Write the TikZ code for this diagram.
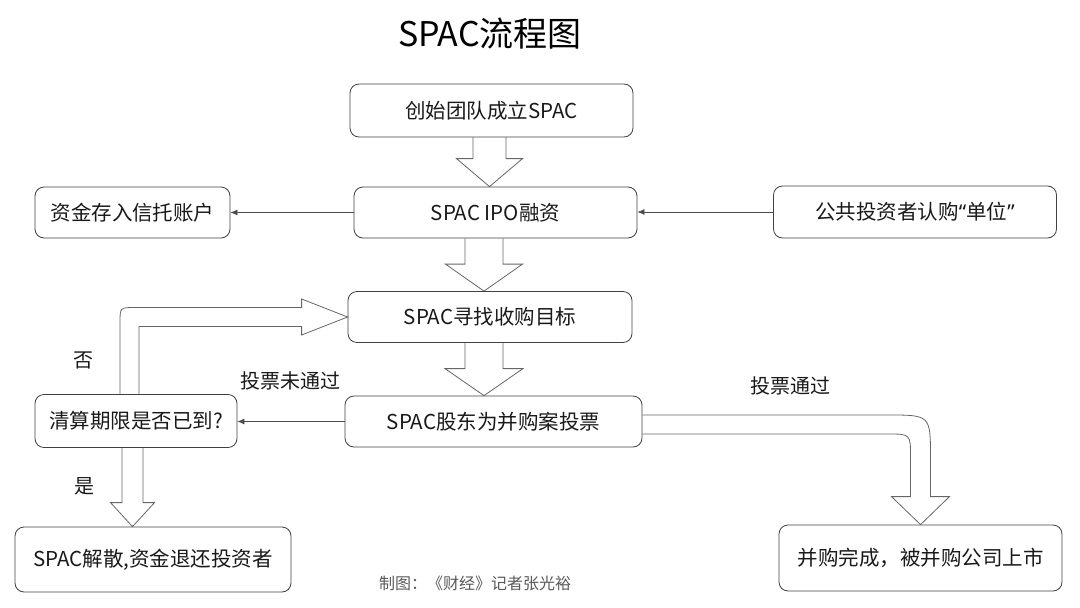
\documentclass[tikz,border=0pt]{standalone}
\usepackage{fontspec}
\setmainfont{Noto Sans CJK SC}
\newfontfamily\quotefont{Noto Sans}
\usepackage{tikz}
\usetikzlibrary{arrows.meta,calc,backgrounds}

% hollow down arrow: top point, tip point, half shaft, half head, head length
\newcommand{\blockdown}[5]{%
	\draw[bigarrow] ($(#1)+(-#3,0)$) -- ($(#2)+(-#3,-#5)$) -- ($(#2)+(-#4,-#5)$) -- (#2)
		-- ($(#2)+(#4,-#5)$) -- ($(#2)+(#3,-#5)$) -- ($(#1)+(#3,0)$);}

\tikzset{
	box/.style={draw=black!75,rounded corners=9pt,line width=0.8pt,inner sep=0pt,
		font=\fontsize{20.5}{24}\selectfont,text=black!90},
	bigarrow/.style={draw=black!60,fill=white,line width=0.8pt},
	feed/.style={->,draw=black!70,line width=0.7pt},
	lbl/.style={font=\fontsize{20}{24}\selectfont,text=black!90},
}

\begin{document}
\begin{tikzpicture}[>={Latex[length=7pt,width=6pt]},x=1pt,y=-1pt]
					\useasboundingbox (0,0) rectangle (1080,608);
					\node (title) at (490,34) {\fontsize{34}{40}\selectfont SPAC流程图};

					\node (found) [box,minimum width=283pt,minimum height=53pt] at (491.5,110.5) {创始团队成立SPAC};
					\node (ipo) [box,minimum width=283pt,minimum height=51pt] at (495.5,212.5) {SPAC IPO融资};
					\node (trust) [box,minimum width=195pt,minimum height=51pt] at (132.5,212.5) {资金存入信托账户};
					\node (units) [box,minimum width=283pt,minimum height=52pt] at (915,212) {公共投资者认购{\quotefont“}单位{\quotefont”}};
					\node (search) [box,minimum width=284pt,minimum height=51pt] at (490,317) {SPAC寻找收购目标};
					\node (vote) [box,minimum width=297pt,minimum height=51pt] at (493.5,421.5) {SPAC股东为并购案投票};
					\node (check) [box,minimum width=202pt,minimum height=53pt] at (136,421) {清算期限是否已到?};
					\node (dissolve) [box,minimum width=276pt,minimum height=65pt] at (153,559.5) {SPAC解散,资金退还投资者};
					\node (listed) [box,minimum width=283pt,minimum height=66pt] at (920.5,558) {并购完成，被并购公司上市};

					\node (no) [lbl] at (83.5,360) {否};
					\node (fail) [lbl] at (290.5,380.5) {投票未通过};
					\node (pass) [lbl] at (790,386) {投票通过};
					\node (yes) [lbl] at (84,486) {是};
					\node (credit) [text=black!65] at (475,583) {\fontsize{16}{20}\selectfont 制图：《财经》记者张光裕};

					\draw[feed] (ipo.west) -- (trust.east);
					\draw[feed] (units.west) -- (units.west -| ipo.east);
					\draw[feed] (vote.west) -- (vote.west -| check.east);

					\begin{scope}[on background layer]
						\coordinate (a1) at ($(found.south)+(-2,0)$);
						\coordinate (a2) at ($(ipo.south)+(-11.5,0)$);
						\coordinate (a3) at ($(search.south)+(-6,0)$);
						\coordinate (a4) at ($(check.south)+(-3.5,0)$);
						\blockdown{a1}{a1 |- ipo.north}{16.5}{33}{28}
						\blockdown{a2}{a2 |- search.north}{19}{38.5}{27}
						\blockdown{a3}{a3 |- vote.north}{19}{39}{27}
						\blockdown{a4}{a4 |- dissolve.north}{10.5}{22}{24}

						% back to search
						\coordinate (noA) at ($(check.north)+(-16,0)$);
						\coordinate (noB) at ($(check.north)+(3,0)$);
						\coordinate (T) at (search.west);
						\draw[bigarrow] (noA) -- ($(noA |- T)+(0,5.5)$)
							.. controls ($(noA |- T)+(0,-9.5)$) .. ($(noA |- T)+(15,-9.5)$)
							-- ($(T)+(-46,-9.5)$) -- ($(T)+(-46,-18)$) -- (T)
							-- ($(T)+(-46,18)$) -- ($(T)+(-46,9.5)$)
							-- ($(noB |- T)+(0,9.5)$) -- (noB);

						% on to listing
						\coordinate (S) at (vote.east);
						\coordinate (E) at (listed.north);
						\draw[bigarrow] ($(S)+(0,-6.5)$) -- ($(S -| E)+(-33,-6.5)$)
							.. controls ($(S -| E)+(10,-6.5)$) .. ($(S -| E)+(10,36.5)$)
							-- ($(E)+(10,-28)$) -- ($(E)+(29,-28)$) -- (E)
							-- ($(E)+(-29,-28)$) -- ($(E)+(-10,-28)$)
							-- ($(S -| E)+(-10,35.5)$)
							.. controls ($(S -| E)+(-10,12.5)$) .. ($(S -| E)+(-33,12.5)$)
							-- ($(S)+(0,12.5)$);
					\end{scope}
				\end{tikzpicture}
\end{document}
